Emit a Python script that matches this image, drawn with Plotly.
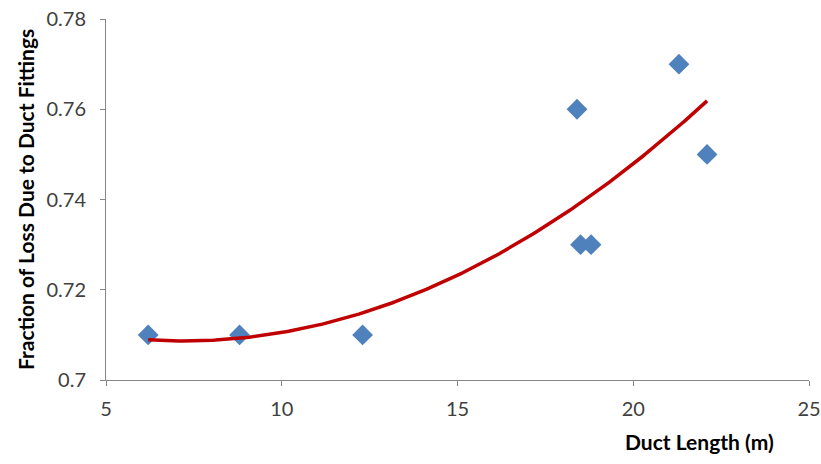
import numpy as np
import plotly.graph_objects as go

# Measured duct lengths (m) and the fraction of pressure loss due to fittings
duct_length = [6.2, 8.8, 12.3, 18.4, 18.5, 18.8, 21.3, 22.1]
loss_fraction = [0.71, 0.71, 0.71, 0.76, 0.73, 0.73, 0.77, 0.75]

x_ticks = [5, 10, 15, 20, 25]
y_ticks = [0.7, 0.72, 0.74, 0.76, 0.78]
y_tick_text = ["0.7", "0.72", "0.74", "0.76", "0.78"]

# Second-order polynomial trendline over the measured range
coef = np.polyfit(duct_length, loss_fraction, 2)
xs = np.linspace(min(duct_length), max(duct_length), 200)
ys = np.polyval(coef, xs)

fig = go.Figure()
fig.add_trace(go.Scatter(
    x=duct_length, y=loss_fraction, mode="markers",
    marker=dict(symbol="diamond", size=16, color="#4F81BD", line=dict(width=0)),
    showlegend=False,
))
fig.add_trace(go.Scatter(
    x=xs, y=ys, mode="lines",
    line=dict(color="#C00000", width=3.5),
    showlegend=False,
))

font_family = "Lato, Carlito, Calibri, sans-serif"
axis_font = dict(family=font_family, size=20, color="#404040")

L, R, T, B = 106, 12, 19, 84
W, H = 821, 464
pw, ph = W - L - R, H - T - B

fig.update_layout(
    width=W, height=H,
    margin=dict(l=L, r=R, t=T, b=B, autoexpand=False),
    paper_bgcolor="white", plot_bgcolor="white",
    xaxis=dict(
        range=[5, 25], tickvals=x_ticks, showgrid=False, zeroline=False,
        showline=True, linecolor="#878787", linewidth=1,
        ticks="outside", ticklen=5, tickcolor="#878787",
        tickfont=axis_font, automargin=False, ticklabelstandoff=6,
    ),
    yaxis=dict(
        range=[0.7, 0.78], tickvals=y_ticks, ticktext=y_tick_text,
        showgrid=False, zeroline=False,
        showline=True, linecolor="#878787", linewidth=1,
        ticks="outside", ticklen=5, tickcolor="#878787",
        tickfont=axis_font, automargin=False, ticklabelstandoff=10,
    ),
    annotations=[
        dict(text="<b>Duct Length (m)</b>", xref="paper", yref="paper",
             x=(776 - L) / pw, y=-(442 - (H - B)) / ph,
             xanchor="right", yanchor="middle", showarrow=False,
             font=dict(family=font_family, size=21, color="#000000")),
        dict(text="<b>Fraction of Loss Due to Duct Fittings</b>", xref="paper", yref="paper",
             x=-(L - 25) / pw, y=(H - B - 200) / ph, textangle=-90,
             xanchor="center", yanchor="middle", showarrow=False,
             font=dict(family=font_family, size=21, color="#000000")),
    ],
)

fig.write_html("out.html")
